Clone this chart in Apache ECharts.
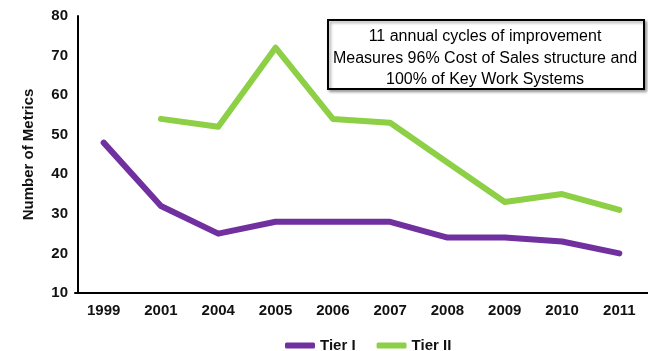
<!DOCTYPE html>
<html>
<head>
<meta charset="utf-8">
<script src="https://cdn.jsdelivr.net/npm/echarts@6/dist/echarts.min.js"></script>
<style>
  html, body { margin: 0; padding: 0; background: #fff; }
  #chart { width: 648px; height: 351px; }
</style>
</head>
<body>
<div id="chart"></div>
<script>
// Fiscal years on the category axis
const years = ['1999', '2001', '2004', '2005', '2006', '2007', '2008', '2009', '2010', '2011'];
// Metric counts per tier (Tier II starts in 2001)
const tierI = [48, 32, 25, 28, 28, 28, 24, 24, 23, 20];
const tierII = [null, 54, 52, 72, 54, 53, 43, 33, 35, 31];
// Value axis ticks
const yTicks = { min: 10, max: 80, interval: 10 };
const noteLines = [
  '11 annual cycles of improvement',
  'Measures 96% Cost of Sales structure and',
  '100% of Key Work Systems'
];

const FONT = '"Liberation Sans", Arial, sans-serif';
const PURPLE = '#7030A0';
const GREEN = '#8DCF45';

const chart = echarts.init(document.getElementById('chart'), null, { renderer: 'canvas' });

chart.setOption({
  animation: false,
  backgroundColor: '#ffffff',
  grid: { left: 75, right: 0, top: 16, bottom: 58 },
  xAxis: {
    type: 'category',
    data: years,
    boundaryGap: true,
    axisLine: { lineStyle: { color: '#000', width: 2 } },
    axisTick: { show: false },
    axisLabel: { color: '#111', fontFamily: FONT, fontWeight: 'bold', fontSize: 15, margin: 10 }
  },
  yAxis: {
    type: 'value',
    min: yTicks.min,
    max: yTicks.max,
    interval: yTicks.interval,
    offset: -3,
    name: 'Number of Metrics',
    nameLocation: 'middle',
    nameGap: 42,
    nameTextStyle: { color: '#111', fontFamily: FONT, fontWeight: 'bold', fontSize: 15 },
    axisLine: { show: true, lineStyle: { color: '#000', width: 2 } },
    axisTick: { show: false },
    splitLine: { show: false },
    axisLabel: { color: '#111', fontFamily: FONT, fontWeight: 'bold', fontSize: 15, margin: 10 }
  },
  legend: {
    top: 333,
    left: 280,
    itemWidth: 30,
    itemHeight: 6,
    itemGap: 21,
    icon: 'roundRect',
    textStyle: { color: '#111', fontFamily: FONT, fontWeight: 'bold', fontSize: 15 },
    data: ['Tier I', 'Tier II']
  },
  series: [
    {
      name: 'Tier I',
      type: 'line',
      data: tierI,
      symbol: 'none',
      color: PURPLE,
      lineStyle: { width: 6, color: PURPLE, cap: 'round', join: 'round' }
    },
    {
      name: 'Tier II',
      type: 'line',
      data: tierII,
      symbol: 'none',
      color: GREEN,
      lineStyle: { width: 6, color: GREEN, cap: 'round', join: 'round' }
    }
  ],
  graphic: [
    {
      type: 'rect',
      left: 327,
      top: 19,
      shape: { width: 316, height: 69 },
      style: { fill: '#fff', stroke: '#000', lineWidth: 2, shadowBlur: 3, shadowOffsetX: 2, shadowOffsetY: 2, shadowColor: 'rgba(0,0,0,0.35)' }
    },
    {
      type: 'text',
      x: 485,
      y: 26,
      style: {
        text: noteLines.join('\n'),
        align: 'center',
        fill: '#000',
        fontFamily: FONT,
        fontSize: 16,
        lineHeight: 21.5
      }
    }
  ]
});
</script>
</body>
</html>
